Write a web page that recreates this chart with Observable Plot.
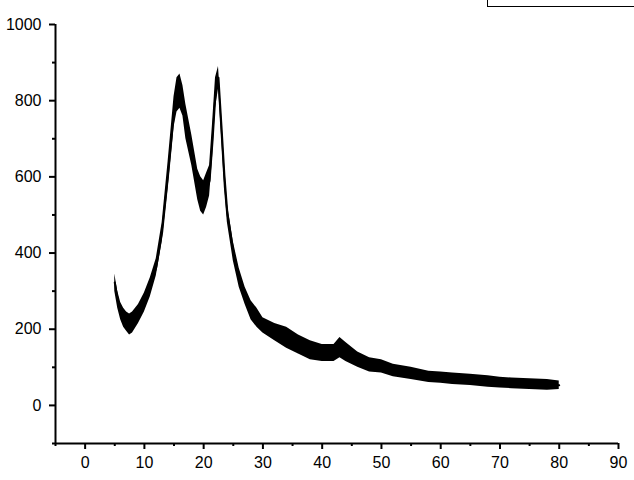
<!DOCTYPE html>
<html>
<head>
<meta charset="utf-8">
<script src="https://cdn.jsdelivr.net/npm/d3@7"></script>
<script src="https://cdn.jsdelivr.net/npm/@observablehq/plot@0.6"></script>
<style>
  html, body { margin: 0; padding: 0; background: #fff; }
  #wrap { position: relative; width: 634px; height: 480px; overflow: hidden; font-family: Arial, "Liberation Sans", sans-serif; }
  #legend { position: absolute; left: 487px; top: -16px; width: 160px; height: 21px; border: 1px solid #000; background: #fff; }
</style>
</head>
<body>
<div id="wrap"><div id="legend"></div></div>
<script>
// 2θ positions (degrees)
const twoTheta = [5, 5.5, 6, 6.5, 7, 7.5, 8, 9, 10, 11, 12, 13, 14, 15, 15.5, 16, 16.5, 17, 18, 19, 19.5, 20, 20.5, 21, 21.5, 22, 22.5, 23, 23.5, 24, 25, 26, 27, 28, 29, 30, 32, 34, 36, 38, 40, 42, 43, 44, 46, 48, 50, 52, 55, 58, 60, 62, 65, 68, 70, 72, 75, 78, 80];
// lower envelope of the noisy intensity
const intensityLow = [300, 255, 225, 205, 195, 185, 190, 215, 245, 285, 340, 430, 570, 730, 770, 780, 760, 700, 630, 540, 510, 500, 520, 550, 650, 780, 830, 700, 570, 480, 380, 310, 265, 225, 205, 190, 170, 150, 135, 120, 115, 115, 125, 115, 100, 88, 85, 75, 68, 60, 58, 55, 52, 48, 46, 44, 42, 40, 42];
// upper envelope of the noisy intensity
const intensityHigh = [345, 300, 270, 255, 245, 240, 245, 265, 295, 335, 385, 480, 640, 810, 860, 870, 840, 790, 710, 620, 600, 590, 610, 630, 740, 860, 890, 770, 640, 530, 430, 360, 310, 275, 255, 230, 215, 205, 185, 170, 160, 160, 178, 165, 140, 125, 120, 108, 100, 90, 88, 85, 82, 78, 74, 72, 70, 68, 64];

const xMajor = [0, 10, 20, 30, 40, 50, 60, 70, 80, 90];
const xMinor = [-5, 5, 15, 25, 35, 45, 55, 65, 75, 85];
const yMajor = [0, 200, 400, 600, 800, 1000];
const yMinor = [-100, 100, 300, 500, 700, 900];

const data = twoTheta.map((x, i) => ({x, lo: intensityLow[i], hi: intensityHigh[i], mid: (intensityLow[i] + intensityHigh[i]) / 2}));

const chart = Plot.plot({
  width: 634,
  height: 480,
  marginLeft: 55,
  marginRight: 16,
  marginTop: 24,
  marginBottom: 37,
  style: {fontFamily: "Arial, 'Liberation Sans', sans-serif", fontSize: "16px", color: "#000", background: "#fff"},
  x: {domain: [-5, 90]},
  y: {domain: [-100, 1000]},
  marks: [
    Plot.areaY(data, {x: "x", y1: "lo", y2: "hi", fill: "#000", curve: "linear"}),
    Plot.lineY(data, {x: "x", y: "mid", stroke: "#000", strokeWidth: 2}),
    Plot.axisX({ticks: xMajor, tickSize: 6, tickPadding: 7, strokeWidth: 2, fontSize: 16, tickFormat: d => String(d), label: null}),
    Plot.axisX({ticks: xMinor, tickSize: 3, text: null, strokeWidth: 2, label: null}),
    Plot.axisY({ticks: yMajor, tickSize: 6, tickPadding: 8, strokeWidth: 2, fontSize: 16, tickFormat: d => String(d), label: null}),
    Plot.axisY({ticks: yMinor, tickSize: 3, text: null, strokeWidth: 2, label: null}),
    Plot.ruleY([-100], {stroke: "#000", strokeWidth: 2}),
    Plot.ruleX([-5], {stroke: "#000", strokeWidth: 2})
  ]
});
document.getElementById("wrap").prepend(chart);
</script>
</body>
</html>
